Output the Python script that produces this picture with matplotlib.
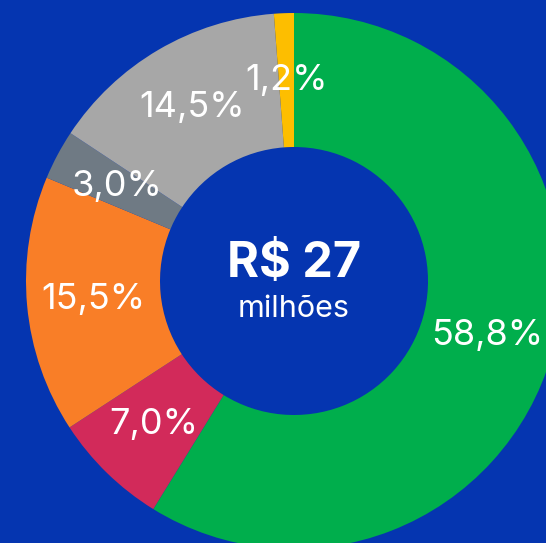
import matplotlib.pyplot as plt

labels = ['58,8%', '7,0%', '15,5%', '3,0%', '14,5%', '1,2%']
values = [58.8, 7.0, 15.5, 3.0, 14.5, 1.2]
colors = ['#00AE4C', '#D22A5A', '#F97E27', '#6F7A84', '#A7A7A7', '#FDBE00']
total_text = 'R$ 27'
unit_text = 'milhões'

bg = '#0535B0'

def main():
    fig = plt.figure(figsize=(5.46, 5.43), dpi=100)
    fig.patch.set_facecolor(bg)
    # donut centre sits at (294, 281) px, radius ~268 px -> partly clipped
    ax = fig.add_axes([26 / 546, -6 / 543, 536 / 546, 536 / 543])
    ax.set_facecolor(bg)

    ax.pie(values, colors=colors, startangle=90, counterclock=False,
           radius=1.0, labels=labels, labeldistance=0.75,
           wedgeprops=dict(width=0.5, linewidth=0),
           textprops=dict(color='white', fontsize=26, family='Inter',
                          ha='center', va='center'))

    ax.text(0, 0.065, total_text, color='white', fontsize=35, fontweight='bold',
            family='Inter', ha='center', va='center')
    ax.text(0, -0.105, unit_text, color='white', fontsize=22,
            family='Inter', ha='center', va='center')

    ax.set_xlim(-1, 1)
    ax.set_ylim(-1, 1)
    ax.set_aspect('equal')
    ax.axis('off')

    fig.savefig('out.png', dpi=100, facecolor=bg)

if __name__ == "__main__":
    main()
